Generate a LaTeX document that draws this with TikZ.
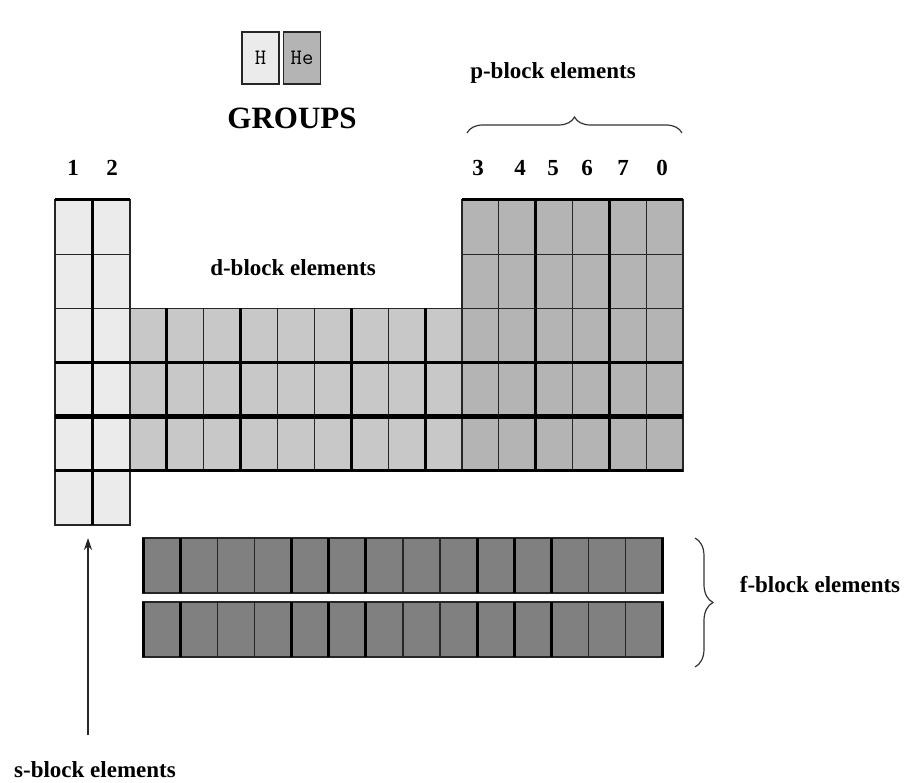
\documentclass[tikz,border=0pt]{standalone}
\usepackage{fontspec}
\setmainfont{Liberation Serif}
\usepackage{xcolor}
\usetikzlibrary{arrows.meta, positioning, decorations.pathreplacing}
\definecolor{sgray}{HTML}{EBEBEB}
\definecolor{dgray}{HTML}{C8C8C8}
\definecolor{pgray}{HTML}{B4B4B4}
\definecolor{fgray}{HTML}{808080}

\begin{document}
\begin{tikzpicture}[
    x=1pt, y=-1pt,
    cell/.style={draw=black!85, line width=1.3pt},
    heavy/.style={line width=3pt},
    heavier/.style={line width=5pt},
    lbl/.style={font=\fontsize{23}{24}\selectfont\bfseries, inner sep=0pt},
    num/.style={font=\fontsize{23}{24}\selectfont\bfseries, inner sep=0pt},
    elem/.style={draw=black!85, line width=1.5pt, minimum width=37pt,
                 minimum height=52pt, inner sep=0pt,
                 font=\ttfamily\fontsize{22}{22}\selectfont},
    brc/.style={decorate, decoration={brace, amplitude=16pt},
                draw=black!80, line width=1.2pt},
    >={Stealth[length=12pt, width=8pt]}
  ]
  \useasboundingbox (0,0) rectangle (910,783);

  % H and He
  \node[elem, fill=sgray] (H) at (260.5,58) {H};
  \node[elem, fill=pgray, right=3pt of H] (He) {He};
  \node[font=\fontsize{31}{32}\selectfont\bfseries] (groups) at (292,118) {GROUPS};

  % s-block
  \foreach \c in {0,1}
    \foreach \r in {0,...,5}
      \draw[cell, fill=sgray] (55+\c*37.5, 200+\r*54.17) rectangle ++(37.5,54.17);
  % d-block
  \foreach \c in {0,...,8}
    \foreach \r in {2,3,4}
      \draw[cell, fill=dgray] (130+\c*36.9, 200+\r*54.17) rectangle ++(36.9,54.17);
  % p-block
  \foreach \c in {0,...,5}
    \foreach \r in {0,...,4}
      \draw[cell, fill=pgray] (462+\c*36.83, 200+\r*54.17) rectangle ++(36.83,54.17);
  % f-block
  \foreach \c in {0,...,13}
    \foreach \y in {538,602}
      \draw[cell, fill=fgray] (143+\c*37.14, \y) rectangle ++(37.14,55);

  % heavy dividers
  \draw[heavy] (55,200) -- (130,200) (462,200) -- (683,200);
  \draw[heavy] (92.5,200) -- (92.5,525);
  \foreach \x in {166.9,240.7,351.4,425.2}
    \draw[heavy] (\x,308.3) -- (\x,470.9);
  \foreach \x in {535.7,609.3}
    \draw[heavy] (\x,200) -- (\x,470.9);
  \draw[heavy] (55,362.5) -- (683,362.5) (55,470.9) -- (683,470.9);
  \draw[heavier] (55,416.7) -- (683,416.7);
  \foreach \k in {0,1,4,5,6,9,10,11,14}
    \draw[heavy] (143+\k*37.14,538) -- ++(0,55) (143+\k*37.14,602) -- ++(0,55);

  % group numbers
  \node[num] (g1) at (73,168) {1};
  \node[num] (g2) at (112,168) {2};
  \foreach \n/\x in {3/478,4/520,5/553,6/587,7/623,0/662}
    \node[num] (g\n) at (\x,168) {\n};

  % block labels
  \node[lbl] (pblock) at (553,73) {p-block elements};
  \node[lbl] (dblock) at (293,268) {d-block elements};
  \node[lbl] (fblock) at (820,585) {f-block elements};
  \node[lbl] (sblock) at (95,770) {s-block elements};

  % braces
  \coordinate (pl) at (467,133);
  \coordinate (pr) at (682,133);
  \draw[brc] (pl) -- (pr);
  \coordinate (ft) at (695,538);
  \coordinate (fb) at (695,667);
  \draw[brc, decoration={amplitude=18pt}] (ft) -- (fb);

  % arrow
  \coordinate (stail) at (88,735);
  \coordinate (stip) at (88,538);
  \draw[->, line width=1.2pt, black!85] (stail) -- (stip);
\end{tikzpicture}
\end{document}
